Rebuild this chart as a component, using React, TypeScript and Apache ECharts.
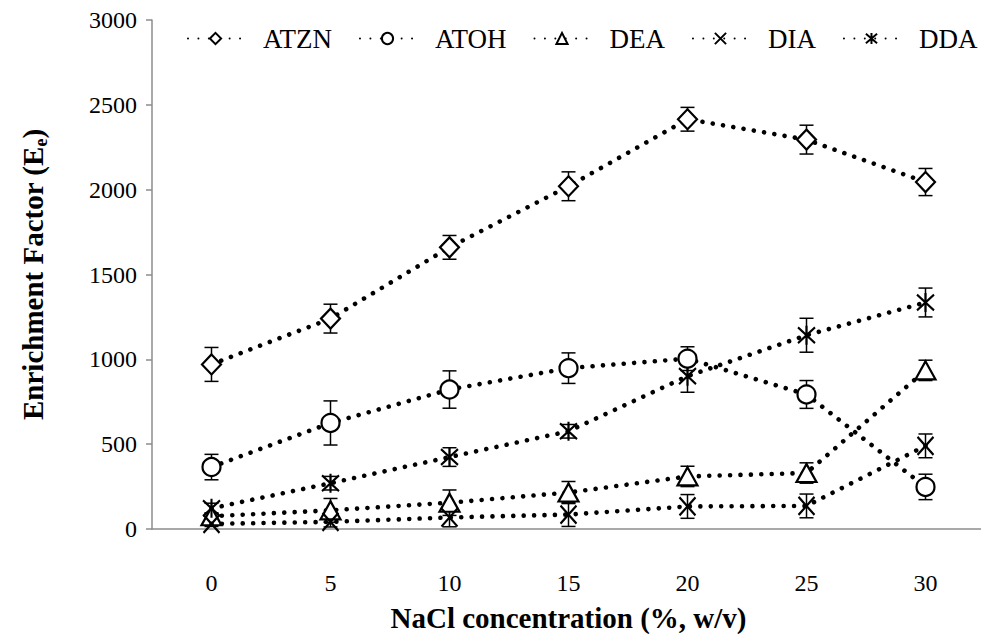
import React, { useEffect, useRef } from "react";
import * as echarts from "echarts";

const categories = ["0", "5", "10", "15", "20", "25", "30"];
const seriesNames = ["ATZN", "ATOH", "DEA", "DIA", "DDA"];
const atzn = [970, 1240, 1660, 2020, 2415, 2295, 2045];
const atznErr = [100, 85, 70, 85, 70, 85, 80];
const atoh = [365, 625, 822, 948, 1004, 793, 248];
const atohErr = [75, 130, 110, 90, 70, 82, 75];
const dea = [75, 110, 155, 215, 310, 330, 935];
const deaErr = [20, 70, 75, 65, 60, 60, 60];
const dia = [30, 42, 68, 85, 133, 136, 490];
const diaErr = [15, 30, 55, 70, 70, 70, 70];
const dda = [122, 270, 424, 576, 901, 1142, 1335];
const ddaErr = [30, 40, 55, 40, 95, 100, 85];
const yTicks = [0, 500, 1000, 1500, 2000, 2500, 3000];

const FONT = "Liberation Serif";
const X_PATH = "path://M0,0L20,20M20,0L0,20";
const STAR_PATH = "path://M0,0L20,20M20,0L0,20M10,-2L10,22";

export default function App() {
  const ref = useRef<HTMLDivElement>(null);
  useEffect(() => {
    document.body.style.margin = "0";
    const chart = echarts.init(ref.current!, null, { renderer: "svg" });
    const values = [atzn, atoh, dea, dia, dda];
    const errs = [atznErr, atohErr, deaErr, diaErr, ddaErr];
    const symbols: any[] = ["diamond", "circle", "triangle", X_PATH, STAR_PATH];
    const sizes: any[] = [[19, 20], 18, [20, 18], [16, 18], [17, 19]];
    const lineSeries = seriesNames.map((name, k) => ({
      name,
      type: "line",
      data: values[k],
      symbol: symbols[k],
      symbolSize: sizes[k],
      z: 3 + k,
      itemStyle: { color: "#fff", borderColor: "#000", borderWidth: 2.2 },
      lineStyle: { color: "#000", width: 4.6, type: [0.01, 10.4], cap: "round" },
      emphasis: { disabled: true },
    }));
    const errSeries = seriesNames.map((name, k) => ({
      name: name + " err",
      type: "custom",
      z: 2,
      encode: { x: 0, y: [1, 2] },
      data: values[k].map((v, i) => [i, Math.max(0, v - errs[k][i]), v + errs[k][i]]),
      renderItem: (params: any, api: any) => {
        const x = api.value(0);
        const top = api.coord([x, api.value(2)]);
        const bot = api.coord([x, api.value(1)]);
        const hw = 7;
        const st = { stroke: "#000", lineWidth: 1.5 };
        return {
          type: "group",
          children: [
            { type: "line", shape: { x1: top[0], y1: top[1], x2: bot[0], y2: bot[1] }, style: st },
            { type: "line", shape: { x1: top[0] - hw, y1: top[1], x2: top[0] + hw, y2: top[1] }, style: st },
            { type: "line", shape: { x1: bot[0] - hw, y1: bot[1], x2: bot[0] + hw, y2: bot[1] }, style: st },
          ],
        };
      },
    }));
    chart.setOption({
      animation: false,
      backgroundColor: "#fff",
      textStyle: { fontFamily: FONT },
      grid: { left: 152, top: 20, width: 833, height: 509, containLabel: false, outerBoundsMode: "none" },
      legend: {
        data: seriesNames,
        left: 187,
        top: 25,
        padding: 0,
        itemGap: 27,
        itemWidth: 55,
        itemHeight: 14,
        textStyle: { fontFamily: FONT, fontSize: 27, color: "#000", padding: [0, 0, 0, 15] },
      },
      xAxis: {
        type: "category",
        data: categories,
        boundaryGap: true,
        axisLine: { lineStyle: { color: "#8c8c8c", width: 1.5 } },
        axisTick: { show: false },
        axisLabel: { fontFamily: FONT, fontSize: 24, color: "#000", margin: 42 },
        name: "NaCl concentration (%, w/v)",
        nameLocation: "middle",
        nameGap: 74,
        nameTextStyle: { fontFamily: FONT, fontSize: 29, fontWeight: "bold", color: "#000" },
      },
      yAxis: {
        type: "value",
        min: yTicks[0],
        max: yTicks[yTicks.length - 1],
        interval: 500,
        splitLine: { show: false },
        axisLine: { show: true, lineStyle: { color: "#8c8c8c", width: 1.5 } },
        axisTick: { show: true, inside: false, length: 6, lineStyle: { color: "#8c8c8c", width: 1.5 } },
        axisLabel: { fontFamily: FONT, fontSize: 24, color: "#000", margin: 15, formatter: (v: number) => String(v) },
        name: "{b|Enrichment Factor (E}{s|e}{b|)}",
        nameLocation: "middle",
        nameGap: 102,
        nameTextStyle: {
          color: "#000",
          fontFamily: FONT,
          rich: {
            b: { fontFamily: FONT, fontSize: 29, fontWeight: "bold", color: "#000", lineHeight: 34 },
            s: { fontFamily: FONT, fontSize: 18, fontWeight: "bold", color: "#000", lineHeight: 20, verticalAlign: "bottom" },
          },
        },
      },
      series: [...errSeries, ...lineSeries],
    });
    return () => chart.dispose();
  }, []);
  return <div ref={ref} style={{ width: 981, height: 634 }} />;
}
